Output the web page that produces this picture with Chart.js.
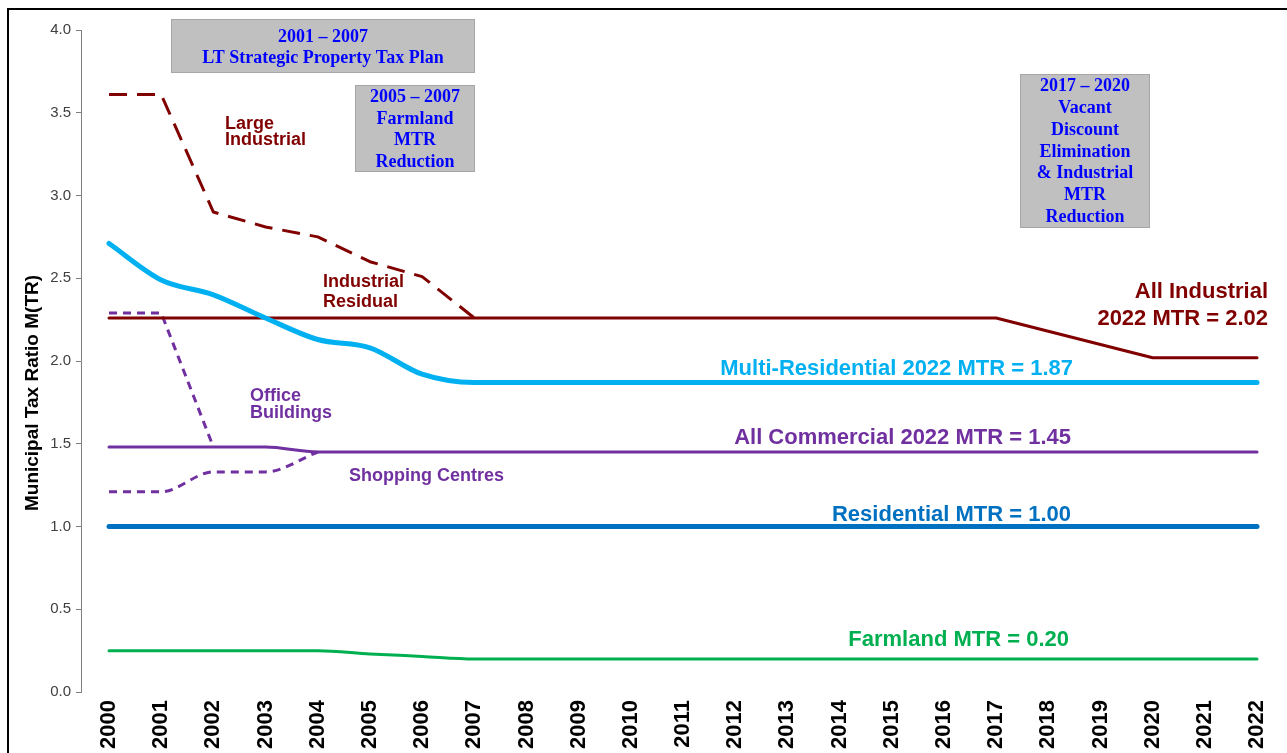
<!DOCTYPE html>
<html><head><meta charset="utf-8">
<script src="https://cdn.jsdelivr.net/npm/chart.js@4.4.1/dist/chart.umd.min.js"></script>
<style>html,body{margin:0;padding:0;background:#fff;} #wrap{position:relative;width:1287px;height:753px;}</style>
</head><body><div id="wrap"><canvas id="c"></canvas></div>
<script>
const years = [2000,2001,2002,2003,2004,2005,2006,2007,2008,2009,2010,2011,2012,2013,2014,2015,2016,2017,2018,2019,2020,2021,2022];
const largeIndustrial = [3.61,3.61,2.90,2.81,2.75,2.60,2.51,2.26];
const allIndustrial = [2.26,2.26,2.26,2.26,2.26,2.26,2.26,2.26,2.26,2.26,2.26,2.26,2.26,2.26,2.26,2.26,2.26,2.26,2.18,2.10,2.02,2.02,2.02];
const multiResidential = [2.71,2.49,2.40,2.26,2.13,2.08,1.92,1.87,1.87,1.87,1.87,1.87,1.87,1.87,1.87,1.87,1.87,1.87,1.87,1.87,1.87,1.87,1.87];
const officeBuildings = [2.29,2.29,1.48];
const allCommercial = [1.48,1.48,1.48,1.48,1.45,1.45,1.45,1.45,1.45,1.45,1.45,1.45,1.45,1.45,1.45,1.45,1.45,1.45,1.45,1.45,1.45,1.45,1.45];
const shoppingCentres = [1.21,1.21,1.33,1.33,1.45];
const residential = [1.00,1.00,1.00,1.00,1.00,1.00,1.00,1.00,1.00,1.00,1.00,1.00,1.00,1.00,1.00,1.00,1.00,1.00,1.00,1.00,1.00,1.00,1.00];
const farmland = [0.25,0.25,0.25,0.25,0.25,0.23,0.215,0.20,0.20,0.20,0.20,0.20,0.20,0.20,0.20,0.20,0.20,0.20,0.20,0.20,0.20,0.20,0.20];
const yTicks = [0,0.5,1.0,1.5,2.0,2.5,3.0,3.5,4.0];
const yTitle = 'Municipal Tax Ratio M(TR)';

const DARK_RED = '#800000', LIGHT_BLUE = '#00B0F0', PURPLE = '#7030A0', DARK_BLUE = '#0070C0', GREEN = '#00B050';
const SANS = "'Liberation Sans', Arial, sans-serif";
const SERIF = "'Liberation Serif', 'Times New Roman', serif";

const pts = vals => vals.map((v, i) => ({x: years[i], y: v}));

const boxes = [
  {x:171, y:19, w:304, h:54, cx:323, ys:[37,58], lines:['2001 – 2007','LT Strategic Property Tax Plan']},
  {x:355, y:85, w:120, h:87, cx:415, ys:[97,119,140,162], lines:['2005 – 2007','Farmland','MTR','Reduction']},
  {x:1020, y:74, w:130, h:154, cx:1085, ys:[86,108,130,152,173,195,217], lines:['2017 – 2020','Vacant','Discount','Elimination','& Industrial','MTR','Reduction']}
];
const labels = [
  {t:'Large', x:225, y:124, a:'left', c:DARK_RED, s:18},
  {t:'Industrial', x:225, y:140, a:'left', c:DARK_RED, s:18},
  {t:'Industrial', x:323, y:282, a:'left', c:DARK_RED, s:18},
  {t:'Residual', x:323, y:302, a:'left', c:DARK_RED, s:18},
  {t:'Office', x:250, y:396, a:'left', c:PURPLE, s:18},
  {t:'Buildings', x:250, y:413, a:'left', c:PURPLE, s:18},
  {t:'Shopping Centres', x:349, y:476, a:'left', c:PURPLE, s:18},
  {t:'All Industrial', x:1268, y:292, a:'right', c:DARK_RED, s:22},
  {t:'2022 MTR = 2.02', x:1268, y:319, a:'right', c:DARK_RED, s:22},
  {t:'Multi-Residential 2022 MTR = 1.87', x:1073, y:369, a:'right', c:LIGHT_BLUE, s:22},
  {t:'All Commercial 2022 MTR = 1.45', x:1071, y:438, a:'right', c:PURPLE, s:22},
  {t:'Residential MTR = 1.00', x:1071, y:515, a:'right', c:DARK_BLUE, s:22},
  {t:'Farmland MTR = 0.20', x:1069, y:640, a:'right', c:GREEN, s:22}
];

const decor = {
  id: 'decor',
  afterDraw(chart) {
    const ctx = chart.ctx;
    ctx.save();
    // frame
    ctx.fillStyle = '#000';
    ctx.fillRect(7, 8, 2, 760);
    ctx.fillRect(7, 8, 1300, 2);
    // y axis title
    ctx.save();
    ctx.translate(33, 393);
    ctx.rotate(-Math.PI / 2);
    ctx.fillStyle = '#000';
    ctx.font = "bold 19px " + SANS;
    ctx.textAlign = 'center';
    ctx.textBaseline = 'middle';
    ctx.fillText(yTitle, 0, 0);
    ctx.restore();
    // boxes
    boxes.forEach(b => {
      ctx.fillStyle = '#C0C0C0';
      ctx.fillRect(b.x, b.y, b.w, b.h);
      ctx.strokeStyle = '#A6A6A6';
      ctx.lineWidth = 1;
      ctx.strokeRect(b.x + 0.5, b.y + 0.5, b.w - 1, b.h - 1);
      ctx.fillStyle = '#0000FF';
      ctx.font = "bold 18px " + SERIF;
      ctx.textAlign = 'center';
      ctx.textBaseline = 'middle';
      b.lines.forEach((l, i) => ctx.fillText(l, b.cx, b.ys[i]));
    });
    // series labels
    labels.forEach(l => {
      ctx.fillStyle = l.c;
      ctx.font = "bold " + l.s + "px " + SANS;
      ctx.textAlign = l.a;
      ctx.textBaseline = 'middle';
      ctx.fillText(l.t, l.x, l.y);
    });
    ctx.restore();
  }
};

const ds = (data, color, width, opts) => Object.assign({
  data: data, borderColor: color, backgroundColor: color, borderWidth: width,
  pointRadius: 0, pointHoverRadius: 0, fill: false, tension: 0,
  borderCapStyle: 'round', borderJoinStyle: 'round'
}, opts || {});

new Chart(document.getElementById('c'), {
  type: 'line',
  data: {
    datasets: [
      ds(pts(residential), DARK_BLUE, 5),
      ds(pts(multiResidential), LIGHT_BLUE, 5, {cubicInterpolationMode: 'monotone'}),
      ds(pts(allIndustrial), DARK_RED, 3),
      ds(pts(largeIndustrial), DARK_RED, 3, {borderDash: [18, 10], borderCapStyle: 'butt'}),
      ds(pts(allCommercial), PURPLE, 3, {cubicInterpolationMode: 'monotone'}),
      ds(pts(officeBuildings), PURPLE, 3, {borderDash: [8, 6], borderCapStyle: 'butt'}),
      ds(pts(shoppingCentres), PURPLE, 3, {borderDash: [8, 6], borderCapStyle: 'butt', cubicInterpolationMode: 'monotone'}),
      ds(pts(farmland), GREEN, 3, {cubicInterpolationMode: 'monotone'})
    ]
  },
  options: {
    responsive: true,
    maintainAspectRatio: false,
    animation: false,
    events: [],
    layout: {padding: {left: 0, right: 3, top: 30, bottom: 0}},
    plugins: {legend: {display: false}, tooltip: {enabled: false}, title: {display: false}},
    scales: {
      x: {
        type: 'linear',
        min: 1999.463,
        max: 2022.517,
        afterBuildTicks: s => { s.ticks = years.map(v => ({value: v})); },
        afterFit: s => { s.height = 61; s.paddingLeft = 0; s.paddingRight = 0; },
        grid: {display: false, drawTicks: false},
        border: {display: false},
        ticks: {
          autoSkip: false, minRotation: 90, maxRotation: 90, padding: 8,
          color: '#000', font: {family: SANS, size: 22, weight: 'bold'},
          callback: v => String(v)
        }
      },
      y: {
        min: 0, max: 4,
        afterBuildTicks: s => { s.ticks = yTicks.map(v => ({value: v})); },
        afterFit: s => { s.width = 81; },
        grid: {drawOnChartArea: false, drawTicks: true, tickLength: 5, color: '#808080'},
        border: {display: true, color: '#808080', width: 1},
        ticks: {padding: 5, color: '#404040', font: {family: SANS, size: 15}, callback: v => v.toFixed(1)},
        title: {display: false}
      }
    }
  },
  plugins: [decor]
});
</script></body></html>
